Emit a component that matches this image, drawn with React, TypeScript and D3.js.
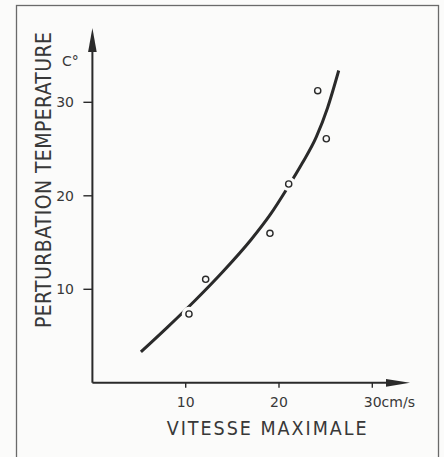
import React from "react";
import * as d3 from "d3";

const W = 444;
const H = 457;

// Measured points (vitesse cm/s, perturbation °C)
const pointX = [10.35, 12.14, 19.03, 21.04, 24.15, 25.07];
const pointY = [7.36, 11.07, 15.99, 21.26, 31.24, 26.1];

// Fitted curve
const curveX = [5.2, 8, 11, 14, 17, 19, 21, 22.5, 24, 25.2, 26.4];
const curveY = [3.3, 5.9, 8.8, 11.9, 15.3, 17.9, 21.0, 23.5, 26.3, 29.4, 33.4];

const xTicks = [10, 20, 30];
const xTickLabels = ["10", "20", "30cm/s"];
const yTicks = [10, 20, 30];
const yTickLabels = ["10", "20", "30"];

const xTitle = "VITESSE MAXIMALE";
const yTitle = "PERTURBATION TEMPERATURE";
const yUnit = "C°";

export default function App() {
  const x = d3.scaleLinear().domain([0, 30]).range([92.4, 372.3]);
  const y = d3.scaleLinear().domain([0, 30]).range([382.8, 102.3]);

  const curveData = curveX.map((v, i) => [v, curveY[i]] as [number, number]);
  const line = d3
    .line<[number, number]>()
    .x((d) => x(d[0]))
    .y((d) => y(d[1]))
    .curve(d3.curveMonotoneX);
  const pathD = line(curveData) || "";

  // distance from each point to curve polyline (pixels) to decide line breaks
  const distToCurve = (px: number, py: number) => {
    let best = Infinity;
    for (let i = 0; i < curveData.length - 1; i++) {
      const ax = x(curveData[i][0]), ay = y(curveData[i][1]);
      const bx = x(curveData[i + 1][0]), by = y(curveData[i + 1][1]);
      const dx = bx - ax, dy = by - ay;
      const t = Math.max(0, Math.min(1, ((px - ax) * dx + (py - ay) * dy) / (dx * dx + dy * dy)));
      const cx = ax + t * dx, cy = ay + t * dy;
      best = Math.min(best, Math.hypot(px - cx, py - cy));
    }
    return best;
  };

  const x0 = x(0);
  const y0 = y(0);
  const ink = "#2a2a2a";
  const textInk = "#383838";
  const font = "'DejaVu Sans', sans-serif";
  const condFont = "'DejaVu Sans Condensed', 'DejaVu Sans', sans-serif";
  const bg = "#fbfbfa";

  return (
    <svg
      width={W}
      height={H}
      style={{ position: "absolute", left: 0, top: 0, background: bg }}
    >
      <rect x={0} y={0} width={W} height={H} fill={bg} />
      {/* frame */}
      <rect x={16.5} y={5.5} width={422} height={470} fill="none" stroke="#6a6a6a" strokeWidth={1.3} />

      {/* axes */}
      <line x1={x0} y1={y0} x2={x0} y2={48} stroke={ink} strokeWidth={2} />
      <path d={`M${x0},28 L${x0 - 4.3},52 L${x0 + 4.3},52 Z`} fill={ink} />
      <line x1={x0} y1={y0} x2={390} y2={y0} stroke={ink} strokeWidth={2} />
      <path d={`M410,${y0} L386,${y0 - 3.9} L386,${y0 + 3.9} Z`} fill={ink} />

      {/* y ticks */}
      {yTicks.map((t, i) => (
        <g key={"yt" + i}>
          <line x1={x0 - 9} x2={x0} y1={y(t)} y2={y(t)} stroke={ink} strokeWidth={1.4} />
          <text
            x={74}
            y={y(t) + 5}
            textAnchor="end"
            fontFamily={font}
            fontSize={14}
            fill={textInk}
          >
            {yTickLabels[i]}
          </text>
        </g>
      ))}
      <text x={62} y={66} fontFamily={font} fontSize={14} fill={textInk}>
        {yUnit}
      </text>

      {/* x ticks */}
      {xTicks.map((t, i) => (
        <g key={"xt" + i}>
          <line x1={x(t)} x2={x(t)} y1={y0} y2={y0 + 5} stroke={ink} strokeWidth={1.4} />
          <text
            x={i === xTicks.length - 1 ? x(t) - 8.5 : x(t)}
            y={406.5}
            textAnchor={i === xTicks.length - 1 ? "start" : "middle"}
            fontFamily={font}
            fontSize={14}
            fill={textInk}
          >
            {xTickLabels[i]}
          </text>
        </g>
      ))}

      {/* titles */}
      <text
        x={266.7}
        y={435}
        textAnchor="middle"
        fontFamily={condFont}
        fontSize={19.5}
        fill={textInk}
        textLength={200}
        lengthAdjust="spacing"
      >
        {xTitle}
      </text>
      <text
        transform="translate(50.5,180) rotate(-90)"
        textAnchor="middle"
        fontFamily={condFont}
        fontSize={21}
        fill={textInk}
        textLength={296}
        lengthAdjust="spacing"
      >
        {yTitle}
      </text>

      {/* curve */}
      <path d={pathD} fill="none" stroke={ink} strokeWidth={3} strokeLinecap="butt" />

      {/* points with line breaks where the curve passes through */}
      {pointX.map((v, i) => {
        const px = x(v);
        const py = y(pointY[i]);
        const close = distToCurve(px, py) < 6;
        return (
          <g key={"p" + i}>
            {close && <circle cx={px} cy={py} r={7.2} fill={bg} />}
            <circle cx={px} cy={py} r={3.1} fill={bg} stroke={ink} strokeWidth={1.4} />
          </g>
        );
      })}
    </svg>
  );
}
